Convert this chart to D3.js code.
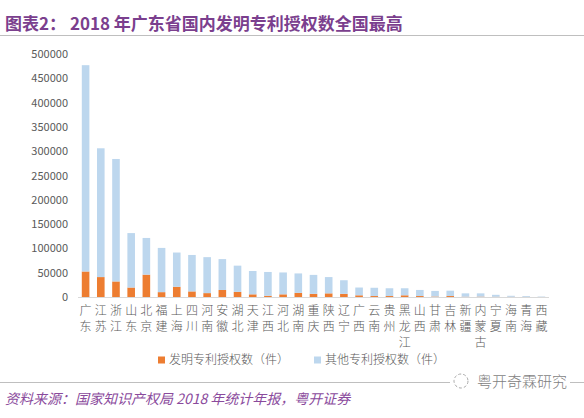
<!DOCTYPE html>
<html>
<head>
<meta charset="utf-8">
<script src="https://cdn.jsdelivr.net/npm/d3@7"></script>
<style>
  body { margin: 0; background: #fff; }
  svg text { font-family: "Noto Sans CJK SC", "Liberation Sans", sans-serif; }
</style>
</head>
<body>
<div id="chart"></div>
<script>
// Data
var provinces = ["广东", "江苏", "浙江", "山东", "北京", "福建", "上海", "四川", "河南", "安徽",
  "湖北", "天津", "江西", "河北", "湖南", "重庆", "陕西", "辽宁", "广西", "云南",
  "贵州", "黑龙江", "山西", "甘肃", "吉林", "新疆", "内蒙古", "宁夏", "海南", "青海", "西藏"];
var inventionGrants = [52500, 41000, 32000, 19500, 46000, 10000, 21000, 11500, 8000, 14500,
  10500, 5500, 2500, 5500, 8500, 6500, 7500, 6500, 3500, 2000,
  2000, 3500, 2000, 1000, 2000, 600, 800, 500, 400, 300, 100];
var otherGrants = [424500, 265000, 252000, 112000, 75500, 91000, 70500, 75000, 74000, 63500,
  54000, 48000, 49000, 45000, 40000, 39000, 33500, 28000, 16000, 17000,
  16000, 14500, 12500, 11500, 11000, 6900, 6700, 4000, 2100, 1700, 900];
var seriesNames = ["发明专利授权数（件）", "其他专利授权数（件）"];
var yTicks = [0, 50000, 100000, 150000, 200000, 250000, 300000, 350000, 400000, 450000, 500000];

var colors = ["#ED7D31", "#BDD7EE"];

var svgWidth = 584, svgHeight = 418;

var svg = d3.select("#chart")
    .append("svg")
    .attr("width", svgWidth)
    .attr("height", svgHeight);

// Title
svg.append("text")
    .attr("x", 5)
    .attr("y", 30)
    .attr("fill", "#7b3f8e")
    .attr("font-size", 17)
    .attr("font-weight", "bold")
    .text("图表2： 2018 年广东省国内发明专利授权数全国最高");

svg.append("line")
    .attr("x1", 0).attr("x2", svgWidth)
    .attr("y1", 35.5).attr("y2", 35.5)
    .attr("stroke", "#bfbfbf")
    .attr("stroke-width", 1);

// Scales
var xScale = d3.scaleBand()
    .domain(provinces)
    .range([78, 549])
    .paddingInner(0.5)
    .paddingOuter(0.25);

var yScale = d3.scaleLinear()
    .domain([0, 500000])
    .range([297, 54]);

// Y axis
var yAxis = svg.append("g")
    .attr("transform", "translate(72,0)")
    .call(d3.axisLeft(yScale).tickValues(yTicks).tickSize(0).tickPadding(4).tickFormat(d3.format("d")));
yAxis.select(".domain").remove();
yAxis.selectAll("text")
    .attr("font-family", "'Liberation Sans', Arial, sans-serif")
    .attr("font-size", 11)
    .attr("fill", "#595959");

// Stacked bars
var rows = provinces.map(function(p, i) {
  return { province: p, invention: inventionGrants[i], other: otherGrants[i] };
});
var stack = d3.stack().keys(["invention", "other"]);
var layers = stack(rows);

svg.append("g")
  .selectAll("g")
  .data(layers)
  .enter()
  .append("g")
    .attr("fill", function(d, i) { return colors[i]; })
  .selectAll("rect")
  .data(function(d) { return d; })
  .enter()
  .append("rect")
    .attr("x", function(d) { return xScale(d.data.province); })
    .attr("width", xScale.bandwidth())
    .attr("y", function(d) { return yScale(d[1]); })
    .attr("height", function(d) { return yScale(d[0]) - yScale(d[1]); });

// Baseline
svg.append("line")
    .attr("x1", 78).attr("x2", 549)
    .attr("y1", yScale(0) + 0.5).attr("y2", yScale(0) + 0.5)
    .attr("stroke", "#d9d9d9");

// X labels, one character per line
var xLabels = svg.append("g")
  .selectAll("text")
  .data(provinces)
  .enter()
  .append("text")
    .attr("text-anchor", "middle")
    .attr("font-size", 12)
    .attr("font-weight", 300)
    .attr("fill", "#595959");

xLabels.selectAll("tspan")
  .data(function(d) { return d.split(""); })
  .enter()
  .append("tspan")
    .attr("x", function() {
      var p = d3.select(this.parentNode).datum();
      return xScale(p) + xScale.bandwidth() / 2;
    })
    .attr("y", function(d, i) { return 315 + i * 16; })
    .text(function(d) { return d; });

// Legend
var legendX = [158, 314];
var legend = svg.append("g")
  .selectAll("g")
  .data(seriesNames)
  .enter()
  .append("g")
    .attr("transform", function(d, i) { return "translate(" + legendX[i] + ",360)"; });

legend.append("rect")
    .attr("x", 0).attr("y", -3.5)
    .attr("width", 7).attr("height", 7)
    .attr("fill", function(d, i) { return colors[i]; });

legend.append("text")
    .attr("x", 11)
    .attr("y", 4)
    .attr("font-size", 12)
    .attr("font-weight", 300)
    .attr("fill", "#595959")
    .text(function(d) { return d; });

// Footer line and watermark
svg.append("line")
    .attr("x1", 0).attr("x2", svgWidth)
    .attr("y1", 382.5).attr("y2", 382.5)
    .attr("stroke", "#bfbfbf");

svg.append("rect")
    .attr("x", 450).attr("y", 372)
    .attr("width", 120).attr("height", 20)
    .attr("fill", "#fff");

svg.append("circle")
    .attr("cx", 461).attr("cy", 381)
    .attr("r", 7)
    .attr("fill", "none")
    .attr("stroke", "#aaa")
    .attr("stroke-width", 1)
    .attr("stroke-dasharray", "3,2");

svg.append("text")
    .attr("x", 477)
    .attr("y", 387)
    .attr("font-size", 15)
    .attr("font-weight", 300)
    .attr("fill", "#7f7f7f")
    .text("粤开奇霖研究");

// Source note
svg.append("text")
    .attr("x", 5)
    .attr("y", 404)
    .attr("font-size", 14)
    .attr("font-style", "italic")
    .attr("fill", "#8a4a9c")
    .text("资料来源：国家知识产权局 2018 年统计年报，粤开证券");
</script>
</body>
</html>
